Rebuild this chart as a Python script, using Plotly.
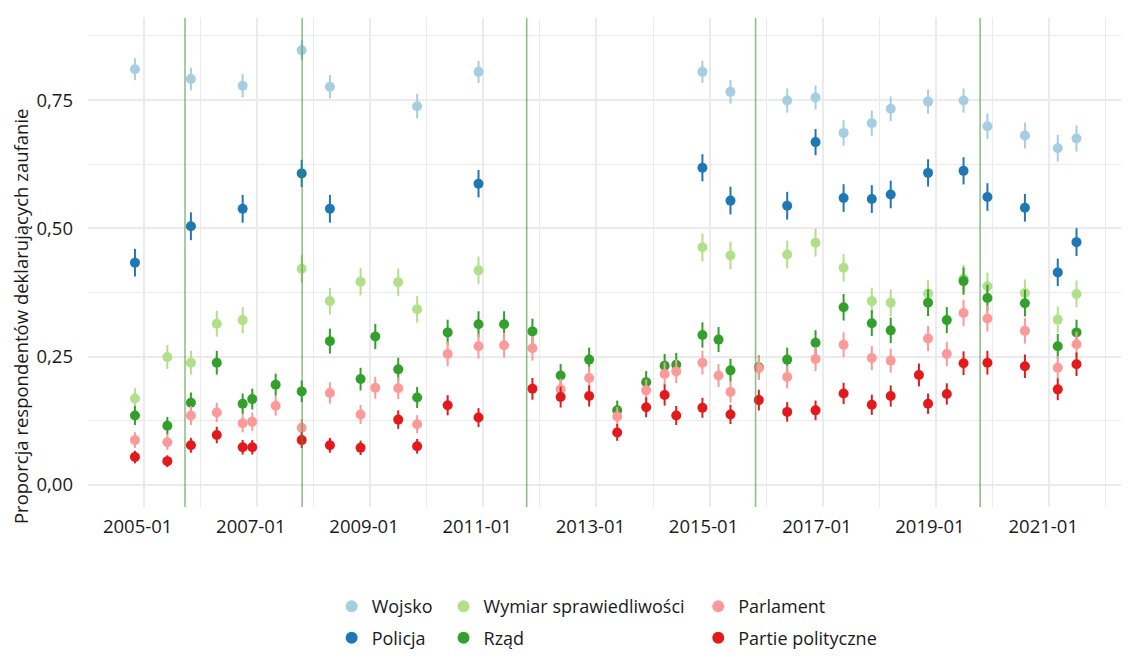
import numpy as np
import plotly.graph_objects as go

# ---------------- data ----------------
wojsko_dates = ["2004-11-06", "2005-11-02", "2006-10-02", "2007-10-18", "2008-04-17",
                "2009-11-01", "2010-12-02", "2014-11-16", "2015-05-16", "2016-05-16",
                "2016-11-15", "2017-05-15", "2017-11-13", "2018-03-15", "2018-11-11",
                "2019-06-28", "2019-11-29", "2020-07-28", "2021-02-25", "2021-06-26"]
wojsko_vals = [0.810, 0.791, 0.778, 0.847, 0.776, 0.738, 0.805, 0.805, 0.766, 0.749,
               0.755, 0.686, 0.705, 0.733, 0.747, 0.749, 0.699, 0.681, 0.656, 0.675]

policja_dates = ["2004-11-06", "2005-11-02", "2006-10-02", "2007-10-18", "2008-04-17",
                 "2010-12-02", "2014-11-16", "2015-05-16", "2016-05-16", "2016-11-15",
                 "2017-05-15", "2017-11-13", "2018-03-15", "2018-11-11", "2019-06-28",
                 "2019-11-29", "2020-07-28", "2021-02-25", "2021-06-26"]
policja_vals = [0.433, 0.504, 0.538, 0.607, 0.538, 0.587, 0.618, 0.554, 0.544, 0.668,
                0.559, 0.557, 0.566, 0.608, 0.612, 0.561, 0.540, 0.414, 0.473]

wymiar_dates = ["2004-11-06", "2005-06-03", "2005-11-02", "2006-04-18", "2006-10-02",
                "2007-10-18", "2008-04-17", "2008-11-01", "2009-07-02", "2009-11-01",
                "2010-12-02", "2014-11-16", "2015-05-16", "2016-05-16", "2016-11-15",
                "2017-05-15", "2017-11-13", "2018-03-15", "2018-11-11", "2019-06-28",
                "2019-11-29", "2020-07-28", "2021-02-25", "2021-06-26"]
wymiar_vals = [0.168, 0.249, 0.238, 0.314, 0.321, 0.421, 0.358, 0.396, 0.395, 0.342,
               0.418, 0.463, 0.447, 0.449, 0.472, 0.423, 0.358, 0.355, 0.373, 0.402,
               0.387, 0.374, 0.322, 0.372]

rzad_dates = ["2004-11-06", "2005-06-03", "2005-11-02", "2006-04-18", "2006-10-02",
              "2006-12-03", "2007-05-03", "2007-10-18", "2008-04-17", "2008-11-01",
              "2009-02-04", "2009-07-02", "2009-11-01", "2010-05-17", "2010-12-02",
              "2011-05-16", "2011-11-15", "2012-05-15", "2012-11-15", "2013-05-15",
              "2013-11-18", "2014-03-17", "2014-05-31", "2014-11-16", "2015-02-28",
              "2015-05-16", "2015-11-15", "2016-05-16", "2016-11-15", "2017-05-15",
              "2017-11-13", "2018-03-15", "2018-11-11", "2019-03-12", "2019-06-28",
              "2019-11-29", "2020-07-28", "2021-02-25", "2021-06-26"]
rzad_vals = [0.135, 0.115, 0.160, 0.238, 0.158, 0.167, 0.195, 0.182, 0.280, 0.206,
             0.289, 0.225, 0.170, 0.297, 0.313, 0.313, 0.299, 0.213, 0.244, 0.145,
             0.200, 0.232, 0.234, 0.292, 0.283, 0.223, 0.229, 0.244, 0.277, 0.346,
             0.315, 0.301, 0.355, 0.321, 0.397, 0.364, 0.354, 0.270, 0.297]

parlament_dates = rzad_dates
parlament_vals = [0.087, 0.083, 0.135, 0.141, 0.120, 0.123, 0.154, 0.111, 0.179, 0.137,
                  0.189, 0.188, 0.118, 0.255, 0.270, 0.272, 0.266, 0.186, 0.208, 0.133,
                  0.184, 0.216, 0.221, 0.238, 0.213, 0.181, 0.227, 0.210, 0.245, 0.273,
                  0.247, 0.242, 0.285, 0.255, 0.335, 0.324, 0.300, 0.228, 0.274]

partie_dates = ["2004-11-06", "2005-06-03", "2005-11-02", "2006-04-18", "2006-10-02",
                "2006-12-03", "2007-10-18", "2008-04-17", "2008-11-01", "2009-07-02",
                "2009-11-01", "2010-05-17", "2010-12-02", "2011-11-15", "2012-05-15",
                "2012-11-15", "2013-05-15", "2013-11-18", "2014-03-17", "2014-05-31",
                "2014-11-16", "2015-05-16", "2015-11-15", "2016-05-16", "2016-11-15",
                "2017-05-15", "2017-11-13", "2018-03-15", "2018-09-13", "2018-11-11",
                "2019-03-12", "2019-06-28", "2019-11-29", "2020-07-28", "2021-02-25",
                "2021-06-26"]
partie_vals = [0.054, 0.046, 0.077, 0.097, 0.073, 0.073, 0.087, 0.077, 0.072, 0.127,
               0.075, 0.155, 0.131, 0.187, 0.171, 0.173, 0.102, 0.151, 0.175, 0.135,
               0.150, 0.137, 0.165, 0.142, 0.145, 0.178, 0.156, 0.173, 0.214, 0.158,
               0.177, 0.237, 0.238, 0.231, 0.186, 0.235]

election_dates = ["2005-09-25", "2007-10-21", "2011-10-09", "2015-10-25", "2019-10-13"]

sample_size = 1300  # approximate survey size used for the 95% interval

x_tick_vals = ["2005-01-01", "2007-01-01", "2009-01-01", "2011-01-01", "2013-01-01",
               "2015-01-01", "2017-01-01", "2019-01-01", "2021-01-01"]
x_tick_text = ["2005-01", "2007-01", "2009-01", "2011-01", "2013-01",
               "2015-01", "2017-01", "2019-01", "2021-01"]
y_tick_vals = [0.0, 0.25, 0.5, 0.75]

series = [
    ("Wojsko", wojsko_dates, wojsko_vals, "#a6cee3", "legend"),
    ("Policja", policja_dates, policja_vals, "#1f78b4", "legend"),
    ("Wymiar sprawiedliwości", wymiar_dates, wymiar_vals, "#b2df8a", "legend2"),
    ("Rząd", rzad_dates, rzad_vals, "#33a02c", "legend2"),
    ("Parlament", parlament_dates, parlament_vals, "#fb9a99", "legend3"),
    ("Partie polityczne", partie_dates, partie_vals, "#e31a1c", "legend3"),
]

FONT = "Open Sans"
FS = 18.5
LFS = 18
TXT = "#1a1a1a"

fig = go.Figure()
for name, d, v, col, lg in series:
    p = np.array(v)
    half = 1.96 * np.sqrt(p * (1 - p) / sample_size)
    fig.add_trace(go.Scatter(
        x=d, y=v, mode="markers", name=name, legend=lg, legendgroup=name,
        marker=dict(color=col, size=10, line=dict(width=0)),
        error_y=dict(type="data", array=half, width=0, thickness=2, color=col),
    ))

for ed in election_dates:
    fig.add_shape(type="line", xref="x", yref="paper", x0=ed, x1=ed, y0=0, y1=1,
                  line=dict(color="rgba(70,150,60,0.6)", width=1.6), layer="above")

leg_common = dict(orientation="v", yanchor="top", y=-0.166, xanchor="left",
                  font=dict(family=FONT, size=LFS, color=TXT),
                  bgcolor="rgba(0,0,0,0)", itemsizing="constant", tracegroupgap=5)

fig.update_layout(
    width=1121, height=659,
    margin=dict(l=80, r=6, t=10, b=160),
    paper_bgcolor="white", plot_bgcolor="white",
    separators=", ",
    font=dict(family=FONT, size=FS, color=TXT),
    legend=dict(x=0.2354, **leg_common),
    legend2=dict(x=0.3435, **leg_common),
    legend3=dict(x=0.5896, **leg_common),
    xaxis=dict(
        type="date", range=["2004-01-08", "2022-04-22"],
        tickvals=x_tick_vals, ticktext=x_tick_text,
        showgrid=True, gridcolor="#ebebeb", gridwidth=1.6,
        minor=dict(dtick="M12", tick0="2004-01-01", showgrid=True,
                   gridcolor="#ebebeb", gridwidth=1),
        zeroline=False, showline=False, ticks="", ticklabelstandoff=6,
        ticklabelshift=-6,
        tickfont=dict(family=FONT, size=FS, color=TXT),
    ),
    yaxis=dict(
        range=[-0.0434, 0.910], tickvals=y_tick_vals, tickformat=".2f",
        showgrid=True, gridcolor="#ebebeb", gridwidth=1.6,
        minor=dict(dtick=0.125, tick0=0, showgrid=True, gridcolor="#ebebeb", gridwidth=1),
        zeroline=False, showline=False, ticks="", ticklabelstandoff=14,
        tickfont=dict(family=FONT, size=FS, color=TXT),
    ),
    annotations=[dict(
        text="Proporcja respondentów deklarujących zaufanie",
        xref="paper", yref="paper", x=-0.0647, y=0.3906,
        xanchor="center", yanchor="middle", textangle=-90, showarrow=False,
        borderpad=0,
        font=dict(family=FONT, size=FS, color=TXT),
    )],
)

fig.write_html("out.html")
